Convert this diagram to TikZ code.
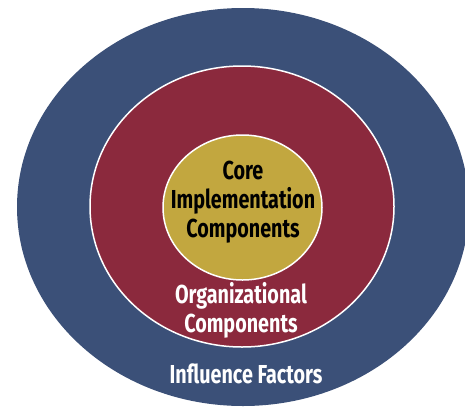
\documentclass[tikz,border=0pt]{standalone}
\usepackage{fontspec}
\setmainfont{Fira Sans}[FakeStretch=0.76]
\usetikzlibrary{shapes.geometric}
\definecolor{outerblue}{RGB}{59,80,120}
\definecolor{midred}{RGB}{139,41,61}
\definecolor{coregold}{RGB}{194,167,63}
\tikzset{
  ring/.style={ellipse, inner sep=0pt, draw=white, line width=1.5pt},
  lbl/.style={align=center, font=\bfseries\fontsize{26}{29}\selectfont, inner sep=0pt}
}
\begin{document}
\begin{tikzpicture}[x=1pt,y=-1pt]
\useasboundingbox (0,0) rectangle (465,407);
\clip (0,0) rectangle (465,407);
\node[ellipse, inner sep=0pt, fill=outerblue, minimum width=452pt, minimum height=398pt] (outer) at (243,207) {};
\node[ring, fill=midred, minimum width=304pt, minimum height=281pt] (mid) at (242,206.5) {};
\node[ring, fill=coregold, minimum width=159pt, minimum height=145pt] (core) at (242.5,207.5) {};
\node[lbl, text=black] (coretext) at (243,202) {Core\\Implementation\\Components};
\node[lbl, text=white] (orgtext) at (241,310) {Organizational\\Components};
\node[lbl, text=white] (inftext) at (246,374) {Influence Factors};
\end{tikzpicture}
\end{document}
